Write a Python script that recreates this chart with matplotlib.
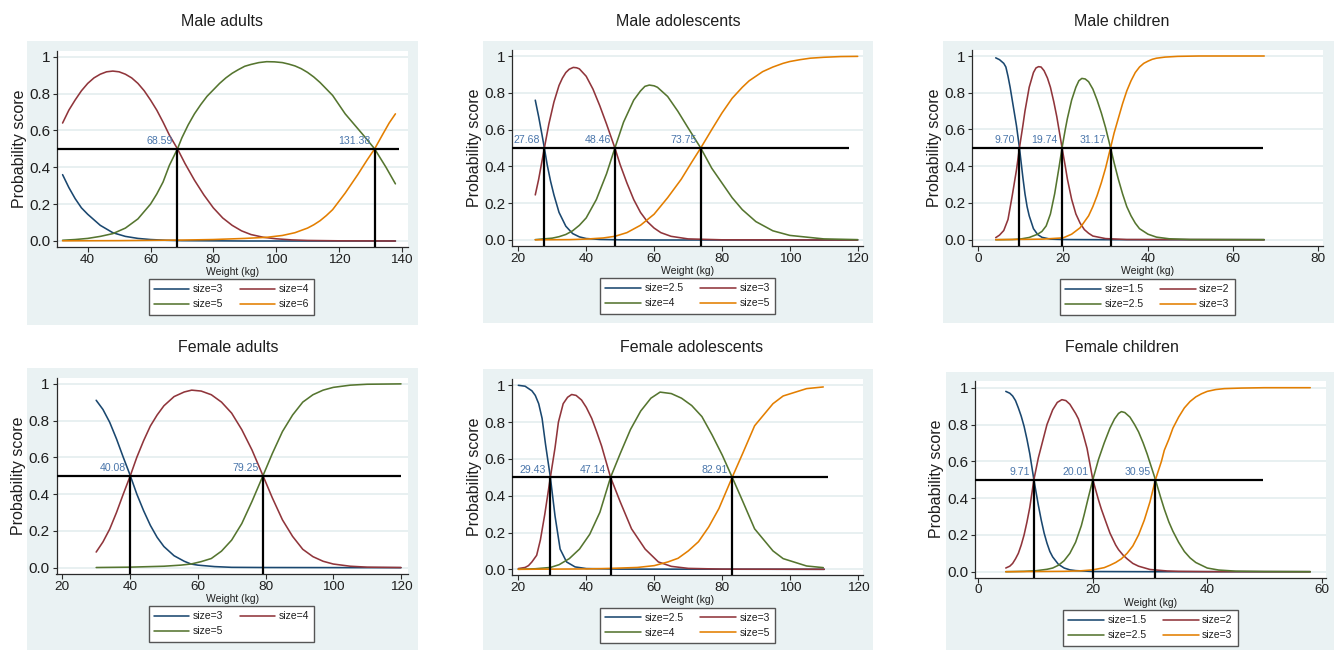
import matplotlib
matplotlib.use("Agg")
import matplotlib.pyplot as plt
from matplotlib.patches import Rectangle

# ---------------- data ----------------
YTICKS = [0.0, 0.2, 0.4, 0.6, 0.8, 1.0]
YTICKLABELS = ["0.0", "0.2", "0.4", "0.6", "0.8", "1"]

# Male adults
ma_labels = ["size=3", "size=4", "size=5", "size=6"]
ma_s3_x = [32, 34, 36, 38, 40, 44, 48, 52, 56, 60, 65, 70, 80, 90, 100, 120, 138]
ma_s3_y = [0.36, 0.29, 0.23, 0.18, 0.145, 0.085, 0.045, 0.025, 0.014, 0.008, 0.004, 0.002, 0.001, 0, 0, 0, 0]
ma_s4_x = [32, 34, 36, 38, 40, 42, 44, 46, 48, 50, 52, 54, 56, 58, 60, 62, 64, 66, 68.59, 71, 74, 77, 80, 83, 86, 89, 92, 96, 100, 105, 110, 120, 138]
ma_s4_y = [0.64, 0.71, 0.765, 0.815, 0.855, 0.885, 0.905, 0.918, 0.922, 0.918, 0.905, 0.885, 0.855, 0.815, 0.765, 0.71, 0.645, 0.575, 0.50, 0.42, 0.33, 0.25, 0.18, 0.125, 0.085, 0.055, 0.035, 0.02, 0.012, 0.006, 0.003, 0.001, 0]
ma_s5_x = [32, 36, 40, 44, 48, 52, 56, 60, 62, 64, 66, 68.59, 70, 72, 74, 76, 78, 80, 82, 84, 86, 88, 90, 92, 94.5, 97, 99.5, 102, 104, 106, 108, 110, 112, 114, 116, 118, 120, 122, 124, 126, 128, 131.38, 133, 135, 138]
ma_s5_y = [0.004, 0.008, 0.014, 0.025, 0.04, 0.07, 0.12, 0.2, 0.255, 0.32, 0.41, 0.5, 0.56, 0.63, 0.69, 0.74, 0.785, 0.82, 0.855, 0.885, 0.91, 0.93, 0.948, 0.958, 0.968, 0.973, 0.972, 0.968, 0.96, 0.95, 0.935, 0.915, 0.89, 0.86, 0.825, 0.79, 0.74, 0.69, 0.65, 0.61, 0.57, 0.5, 0.455, 0.40, 0.31]
ma_s6_x = [32, 50, 70, 80, 90, 97, 102, 106, 110, 112, 114, 116, 118, 120, 122, 124, 126, 129, 131.38, 134, 136, 138]
ma_s6_y = [0.001, 0.002, 0.005, 0.008, 0.014, 0.02, 0.03, 0.045, 0.07, 0.088, 0.11, 0.138, 0.17, 0.215, 0.26, 0.31, 0.36, 0.44, 0.5, 0.58, 0.64, 0.69]
ma_cuts = [68.59, 131.38]
ma_line_end = 139
ma_xticks = [40, 60, 80, 100, 120, 140]

# Male adolescents
mo_labels = ["size=2.5", "size=3", "size=4", "size=5"]
mo_s25_x = [25, 26, 27, 27.68, 28.5, 29.5, 30.5, 32, 34, 36, 38, 40, 44, 50, 60, 120]
mo_s25_y = [0.76, 0.67, 0.57, 0.5, 0.41, 0.32, 0.245, 0.15, 0.075, 0.035, 0.017, 0.008, 0.003, 0.001, 0, 0]
mo_s3_x = [25, 26, 27.68, 29, 30.5, 32, 33, 34, 35, 36.2, 37.2, 38, 40, 42, 44, 46, 48.46, 50, 52, 54, 56, 58, 60, 62, 65, 70, 80, 120]
mo_s3_y = [0.245, 0.33, 0.5, 0.63, 0.75, 0.84, 0.88, 0.91, 0.928, 0.938, 0.936, 0.93, 0.89, 0.82, 0.73, 0.63, 0.50, 0.41, 0.31, 0.22, 0.15, 0.10, 0.065, 0.04, 0.02, 0.006, 0.001, 0]
mo_s4_x = [25, 30, 32, 34, 36, 38, 40, 43, 46, 48.46, 51, 54, 56, 57.3, 58.6, 60, 61, 64, 67, 70, 73.75, 77, 80, 83, 86, 90, 95, 100, 110, 120]
mo_s4_y = [0.002, 0.01, 0.018, 0.03, 0.05, 0.08, 0.12, 0.22, 0.36, 0.5, 0.64, 0.76, 0.81, 0.835, 0.842, 0.838, 0.83, 0.78, 0.70, 0.61, 0.5, 0.39, 0.31, 0.23, 0.165, 0.10, 0.05, 0.025, 0.006, 0.002]
mo_s5_x = [25, 35, 40, 45, 48.46, 52, 56, 60, 64, 68, 71, 73.75, 77, 80, 83, 86, 88, 90, 92, 95, 98, 100, 103, 106, 110, 115, 120]
mo_s5_y = [0.001, 0.002, 0.005, 0.011, 0.02, 0.04, 0.08, 0.14, 0.23, 0.33, 0.42, 0.5, 0.6, 0.69, 0.77, 0.83, 0.865, 0.89, 0.915, 0.94, 0.96, 0.97, 0.98, 0.988, 0.993, 0.997, 0.998]
mo_cuts = [27.68, 48.46, 73.75]
mo_line_end = 117.5
mo_xticks = [20, 40, 60, 80, 100, 120]

# Male children
mc_labels = ["size=1.5", "size=2", "size=2.5", "size=3"]
mc_s15_x = [4.1, 5, 6, 6.5, 7, 7.5, 8, 8.5, 9, 9.7, 10.5, 11, 11.5, 12, 13, 14, 15, 17, 20, 30, 67.4]
mc_s15_y = [0.99, 0.98, 0.96, 0.94, 0.89, 0.83, 0.76, 0.69, 0.62, 0.5, 0.34, 0.25, 0.18, 0.13, 0.06, 0.028, 0.013, 0.003, 0.001, 0, 0]
mc_s2_x = [4.1, 5, 6, 7, 8, 9, 9.7, 10.5, 11, 12, 13, 13.6, 14.2, 14.8, 15.5, 16.3, 17, 17.8, 18.5, 19.74, 20.5, 21, 22, 23, 24, 25, 26, 27, 30, 35, 67.4]
mc_s2_y = [0.011, 0.025, 0.05, 0.11, 0.24, 0.38, 0.5, 0.62, 0.7, 0.83, 0.91, 0.935, 0.942, 0.94, 0.92, 0.88, 0.83, 0.75, 0.67, 0.5, 0.4, 0.33, 0.22, 0.14, 0.09, 0.055, 0.035, 0.02, 0.006, 0.001, 0]
mc_s25_x = [4.1, 8, 10, 12, 14, 15, 16, 17, 18, 19, 19.74, 20.5, 21, 22, 23, 23.7, 24.4, 25.2, 26, 27, 28, 29, 30, 31.17, 32, 33, 34, 35, 36, 37, 38, 40, 42, 45, 50, 67.4]
mc_s25_y = [0, 0.001, 0.004, 0.012, 0.03, 0.045, 0.075, 0.14, 0.25, 0.39, 0.5, 0.6, 0.66, 0.76, 0.83, 0.865, 0.878, 0.875, 0.86, 0.82, 0.76, 0.69, 0.61, 0.5, 0.42, 0.33, 0.25, 0.18, 0.13, 0.09, 0.06, 0.03, 0.014, 0.005, 0.001, 0]
mc_s3_x = [4.1, 15, 20, 22, 24, 26, 27, 28, 29, 30, 31.17, 32, 33, 34, 35, 36, 37, 38, 39, 40, 41, 42, 44, 47, 52, 67.4]
mc_s3_y = [0, 0.003, 0.01, 0.03, 0.065, 0.13, 0.18, 0.24, 0.31, 0.39, 0.5, 0.58, 0.66, 0.74, 0.81, 0.865, 0.91, 0.94, 0.96, 0.972, 0.982, 0.988, 0.994, 0.998, 1.0, 1.0]
mc_cuts = [9.70, 19.74, 31.17]
mc_line_end = 67.1
mc_xticks = [0, 20, 40, 60, 80]

# Female adults
fa_labels = ["size=3", "size=4", "size=5"]
fa_s3_x = [30, 32, 34, 36, 38, 40.08, 42, 44, 46, 48, 50, 53, 56, 58, 60, 65, 70, 80, 120]
fa_s3_y = [0.91, 0.86, 0.79, 0.70, 0.60, 0.5, 0.40, 0.31, 0.23, 0.165, 0.115, 0.065, 0.035, 0.02, 0.014, 0.006, 0.002, 0.001, 0]
fa_s4_x = [30, 32, 34, 36, 38, 40.08, 42, 44, 46, 48, 50, 53, 56, 58.2, 61, 64, 67, 70, 73, 76, 79.25, 82, 85, 88, 91, 94, 97, 100, 105, 110, 120]
fa_s4_y = [0.085, 0.14, 0.21, 0.30, 0.40, 0.5, 0.60, 0.69, 0.77, 0.83, 0.88, 0.93, 0.955, 0.965, 0.96, 0.94, 0.90, 0.84, 0.75, 0.64, 0.5, 0.38, 0.26, 0.17, 0.10, 0.06, 0.035, 0.02, 0.008, 0.003, 0.001]
fa_s5_x = [30, 40, 50, 55, 58, 61, 64, 67, 70, 73, 76, 79.25, 82, 85, 88, 91, 94, 97, 100, 105, 110, 120]
fa_s5_y = [0.001, 0.003, 0.008, 0.014, 0.02, 0.033, 0.05, 0.09, 0.15, 0.24, 0.36, 0.5, 0.62, 0.74, 0.83, 0.90, 0.94, 0.965, 0.98, 0.992, 0.997, 0.999]
fa_cuts = [40.08, 79.25]
fa_line_end = 120
fa_xticks = [20, 40, 60, 80, 100, 120]

# Female adolescents
fo_labels = ["size=2.5", "size=3", "size=4", "size=5"]
fo_s25_x = [20, 22, 24, 25, 26, 27, 28, 29.43, 30.8, 32.3, 34.2, 36.7, 40, 50, 110]
fo_s25_y = [1.0, 0.995, 0.97, 0.945, 0.9, 0.82, 0.68, 0.5, 0.29, 0.11, 0.04, 0.013, 0.004, 0.001, 0]
fo_s3_x = [20, 22, 23, 24, 25.4, 26.5, 27.8, 29.43, 30.8, 31.8, 33.2, 34.5, 35.7, 37, 38.6, 40, 41.6, 43, 44.5, 47.14, 49.9, 53.3, 57.3, 61.2, 65, 70, 80, 110]
fo_s3_y = [0.004, 0.01, 0.02, 0.04, 0.076, 0.16, 0.3, 0.5, 0.66, 0.8, 0.9, 0.935, 0.95, 0.945, 0.92, 0.88, 0.82, 0.75, 0.67, 0.5, 0.37, 0.22, 0.11, 0.04, 0.016, 0.005, 0.001, 0]
fo_s4_x = [20, 25, 29.43, 32, 35, 38, 41, 44, 47.14, 50, 53, 56, 59, 61.7, 65, 68, 71, 74, 77, 80, 82.91, 86, 89.5, 94.9, 97.9, 104.8, 109.7]
fo_s4_y = [0, 0.003, 0.01, 0.025, 0.058, 0.11, 0.19, 0.31, 0.5, 0.63, 0.76, 0.86, 0.93, 0.963, 0.955, 0.93, 0.89, 0.83, 0.73, 0.62, 0.5, 0.37, 0.22, 0.10, 0.058, 0.018, 0.009]
fo_s5_x = [20, 40, 47.14, 55, 60, 64, 67, 70, 73, 76, 79, 82.91, 86, 89.5, 94.9, 97.9, 104.8, 109.7]
fo_s5_y = [0, 0.002, 0.005, 0.01, 0.02, 0.04, 0.06, 0.1, 0.15, 0.23, 0.33, 0.5, 0.63, 0.78, 0.90, 0.942, 0.982, 0.991]
fo_cuts = [29.43, 47.14, 82.91]
fo_line_end = 111.2
fo_xticks = [20, 40, 60, 80, 100, 120]

# Female children
fc_labels = ["size=1.5", "size=2", "size=2.5", "size=3"]
fc_s15_x = [4.8, 5.5, 6, 6.5, 7, 7.5, 8, 8.5, 9, 9.71, 10.5, 11, 11.5, 12, 12.5, 13, 14, 15, 16, 17, 20, 30, 58]
fc_s15_y = [0.98, 0.97, 0.955, 0.93, 0.89, 0.845, 0.79, 0.72, 0.64, 0.5, 0.36, 0.28, 0.21, 0.155, 0.11, 0.08, 0.04, 0.02, 0.01, 0.006, 0.001, 0, 0]
fc_s2_x = [4.8, 5.5, 6, 6.5, 7, 7.5, 8, 8.5, 9, 9.71, 10.5, 11, 12, 13, 13.8, 14.6, 15.3, 16, 17, 17.5, 18.3, 19, 20.01, 21, 21.5, 22.3, 23, 24, 24.5, 25.3, 26, 27, 28, 30, 33, 35, 40, 58]
fc_s2_y = [0.02, 0.03, 0.045, 0.07, 0.1, 0.145, 0.2, 0.27, 0.35, 0.5, 0.62, 0.68, 0.8, 0.88, 0.92, 0.935, 0.93, 0.91, 0.86, 0.83, 0.75, 0.67, 0.5, 0.39, 0.34, 0.27, 0.21, 0.145, 0.12, 0.09, 0.07, 0.045, 0.03, 0.012, 0.004, 0.002, 0.0005, 0]
fc_s25_x = [4.8, 8, 10, 12, 13, 14, 15, 16, 17, 18, 18.5, 19.2, 20.01, 21, 22, 23, 23.8, 24.5, 25, 25.6, 26.5, 27.3, 28, 28.8, 29.5, 30.95, 31.8, 32.5, 33.3, 34, 35, 36, 37, 38, 40, 42, 45, 50, 58]
fc_s25_y = [0, 0.002, 0.005, 0.013, 0.02, 0.035, 0.06, 0.1, 0.16, 0.25, 0.31, 0.4, 0.5, 0.61, 0.70, 0.78, 0.83, 0.86, 0.87, 0.865, 0.84, 0.80, 0.76, 0.70, 0.64, 0.5, 0.41, 0.34, 0.27, 0.22, 0.16, 0.11, 0.075, 0.05, 0.02, 0.009, 0.003, 0.001, 0]
fc_s3_x = [4.8, 15, 18, 20.01, 22, 23, 24, 25, 26, 27, 28, 29, 30, 30.95, 32, 32.5, 33.3, 34, 35, 36, 37, 38, 39, 40, 41.5, 43, 46, 50, 58]
fc_s3_y = [0, 0.002, 0.005, 0.01, 0.022, 0.035, 0.05, 0.07, 0.1, 0.14, 0.2, 0.28, 0.38, 0.5, 0.6, 0.66, 0.72, 0.78, 0.84, 0.89, 0.925, 0.95, 0.967, 0.98, 0.99, 0.995, 0.998, 1.0, 1.0]
fc_cuts = [9.71, 20.01, 30.95]
fc_line_end = 49.7
fc_xticks = [0, 20, 40, 60]

# ---------------- styling ----------------
plt.rcParams['font.family'] = ['Liberation Sans', 'DejaVu Sans']
W, H = 1336, 650
NAVY, MAROON, GREEN, ORANGE = '#1a476f', '#90353b', '#55752f', '#e37e00'
BG = '#eaf2f3'
GRID = '#e4edef'
LBLUE = '#4a76ab'
TXT = '#1e1e1e'

fig = plt.figure(figsize=(W / 100, H / 100), dpi=100)
fig.patch.set_facecolor('white')


def fx(p):
    return p / W


def fy(p):
    return 1 - p / H


panels = [
    dict(title="Male adults", tpos=(222, 21), bg=(27, 41, 418, 325), ax=(57, 51, 408, 247),
         xref=((40, 87.7), (140, 401.7)), yref=(241, 56.7), leg=(231.5, 279),
         series=[(ma_s3_x, ma_s3_y), (ma_s4_x, ma_s4_y), (ma_s5_x, ma_s5_y), (ma_s6_x, ma_s6_y)],
         labels=ma_labels, cuts=ma_cuts, end=ma_line_end, xticks=ma_xticks),
    dict(title="Male adolescents", tpos=(678, 21), bg=(483, 41, 873, 323), ax=(512, 50, 863, 246),
         xref=((20, 518.3), (120, 857.7)), yref=(240, 56), leg=(687.5, 278),
         series=[(mo_s25_x, mo_s25_y), (mo_s3_x, mo_s3_y), (mo_s4_x, mo_s4_y), (mo_s5_x, mo_s5_y)],
         labels=mo_labels, cuts=mo_cuts, end=mo_line_end, xticks=mo_xticks),
    dict(title="Male children", tpos=(1122, 21), bg=(943, 41, 1334, 323), ax=(972, 50, 1323, 246),
         xref=((0, 978.3), (80, 1317.7)), yref=(239.7, 56), leg=(1147.5, 279),
         series=[(mc_s15_x, mc_s15_y), (mc_s2_x, mc_s2_y), (mc_s25_x, mc_s25_y), (mc_s3_x, mc_s3_y)],
         labels=mc_labels, cuts=mc_cuts, end=mc_line_end, xticks=mc_xticks),
    dict(title="Female adults", tpos=(228, 347), bg=(27, 368, 418, 650), ax=(56.5, 378, 408, 574),
         xref=((20, 62.3), (120, 401)), yref=(567.7, 383.7), leg=(231.5, 606),
         series=[(fa_s3_x, fa_s3_y), (fa_s4_x, fa_s4_y), (fa_s5_x, fa_s5_y)],
         labels=fa_labels, cuts=fa_cuts, end=fa_line_end, xticks=fa_xticks),
    dict(title="Female adolescents", tpos=(692, 347), bg=(483, 369, 873, 650), ax=(512, 379, 863, 575),
         xref=((20, 518.3), (120, 858.3)), yref=(569.3, 385.3), leg=(687.5, 607.5),
         series=[(fo_s25_x, fo_s25_y), (fo_s3_x, fo_s3_y), (fo_s4_x, fo_s4_y), (fo_s5_x, fo_s5_y)],
         labels=fo_labels, cuts=fo_cuts, end=fo_line_end, xticks=fo_xticks),
    dict(title="Female children", tpos=(1122, 347), bg=(946, 372, 1334, 650), ax=(975, 381, 1326, 577.5),
         xref=((0, 978.3), (60, 1321.7)), yref=(571.7, 387.7), leg=(1150.5, 610),
         series=[(fc_s15_x, fc_s15_y), (fc_s2_x, fc_s2_y), (fc_s25_x, fc_s25_y), (fc_s3_x, fc_s3_y)],
         labels=fc_labels, cuts=fc_cuts, end=fc_line_end, xticks=fc_xticks),
]

colors = [NAVY, MAROON, GREEN, ORANGE]

for p in panels:
    x0, y0, x1, y1 = p['bg']
    fig.add_artist(Rectangle((fx(x0), fy(y1)), (x1 - x0) / W, (y1 - y0) / H,
                             transform=fig.transFigure, facecolor=BG, edgecolor='none', zorder=-5))
    fig.text(fx(p['tpos'][0]), fy(p['tpos'][1]), p['title'], ha='center', va='center',
             fontsize=11.5, color=TXT)

    l, t, r, b = p['ax']
    ax = fig.add_axes([fx(l), fy(b), (r - l) / W, (b - t) / H])
    ax.set_facecolor('white')
    axw, axh = r - l, b - t

    (v1, p1), (v2, p2) = p['xref']
    sx = (p2 - p1) / (v2 - v1)
    ax.set_xlim(v1 - (p1 - l) / sx, v1 + (r - p1) / sx)
    py0, py1 = p['yref']
    sy = py0 - py1
    ymin = -(b - py0) / sy
    ax.set_ylim(ymin, 1 + (py1 - t) / sy)

    ax.set_axisbelow(True)
    ax.set_yticks(YTICKS)
    ax.set_yticklabels(YTICKLABELS)
    ax.set_xticks(p['xticks'])
    ax.yaxis.grid(True, color=GRID, lw=1.2)
    ax.xaxis.grid(False)
    for s in ('top', 'right'):
        ax.spines[s].set_visible(False)
    for s in ('left', 'bottom'):
        ax.spines[s].set_color('#2a2a2a')
        ax.spines[s].set_linewidth(0.9)
    ax.tick_params(axis='y', direction='out', length=3, width=0.8, pad=2, labelsize=11,
                   colors='#2a2a2a', labelcolor=TXT)
    ax.tick_params(axis='x', direction='out', length=3.5, width=0.8, pad=1.5, labelsize=9.7,
                   colors='#2a2a2a', labelcolor=TXT)

    handles = []
    for (xs, ys), c, lab in zip(p['series'], colors, p['labels']):
        h, = ax.plot(xs, ys, color=c, lw=1.15, label=lab, zorder=3,
                     solid_joinstyle='round', solid_capstyle='round')
        handles.append(h)

    xmin = ax.get_xlim()[0]
    ax.hlines(0.5, xmin, p['end'], color='black', lw=1.6, zorder=4)
    ax.vlines(p['cuts'], ymin, 0.5, color='black', lw=1.6, zorder=4)
    for c in p['cuts']:
        ax.annotate(f"{c:.2f}", xy=(c, 0.5), xytext=(-3, 1.8), textcoords='offset points',
                    ha='right', va='bottom', color=LBLUE, fontsize=7.6, zorder=5)

    ax.set_ylabel('Probability score', fontsize=11.5, color=TXT)
    ax.yaxis.set_label_coords(-38 / axw, 0.5)
    ax.yaxis.label.set_va('center')
    ax.set_xlabel('Weight (kg)', fontsize=7.5, color=TXT)
    ax.xaxis.set_label_coords(0.5, -25 / axh)
    ax.xaxis.label.set_va('center')

    # row-wise legend ordering (Stata style) with two columns
    n = len(handles)
    order = [0, 2, 1, 3] if n == 4 else [0, 2, 1]
    hh = [handles[i] for i in order]
    ll = [p['labels'][i] for i in order]
    leg = fig.legend(hh, ll, loc='upper center', bbox_to_anchor=(fx(p['leg'][0]), fy(p['leg'][1])),
                     ncol=2, fontsize=7.5, frameon=True, fancybox=False, edgecolor='#555555',
                     facecolor='white', framealpha=1, handlelength=3.4, handletextpad=0.35,
                     columnspacing=1.6, borderpad=0.5, labelspacing=0.5, borderaxespad=0)
    leg.get_frame().set_linewidth(1.0)
    for txt in leg.get_texts():
        txt.set_color(TXT)

fig.savefig('out.png', dpi=100)
